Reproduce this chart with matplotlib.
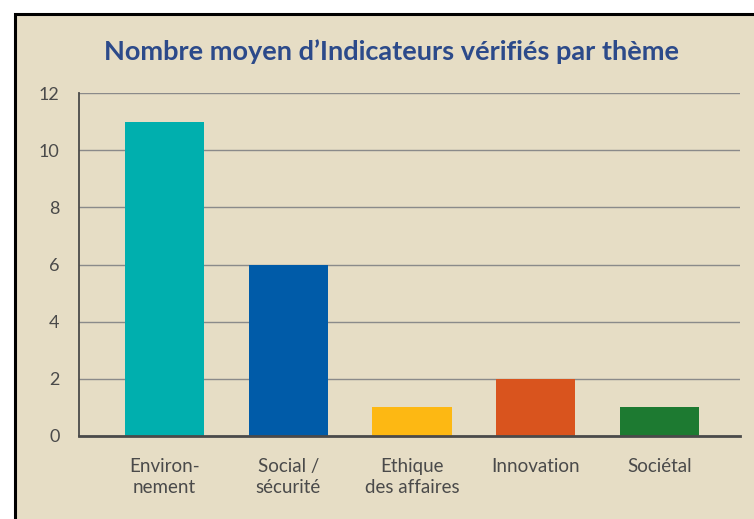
import matplotlib
matplotlib.use("Agg")
import matplotlib.pyplot as plt
from matplotlib.patches import Rectangle

categories = ["Environ-\nnement", "Social /\nsécurité", "Ethique\ndes affaires", "Innovation", "Sociétal"]
values = [11, 6, 1, 2, 1]
colors = ["#00AFAE", "#005BA8", "#FDB813", "#D9541E", "#1D7A31"]
yticks = [0, 2, 4, 6, 8, 10, 12]
title = "Nombre moyen d\u2019Indicateurs vérifiés par thème"

W, H = 754, 519
fig = plt.figure(figsize=(W / 100, H / 100), dpi=100)
fig.patch.set_facecolor("white")

bg = "#E6DDC5"
# beige panel with black frame
fig.patches.append(Rectangle((15 / W, -0.05), 1.1, (H - 14) / H + 0.05, transform=fig.transFigure,
                             facecolor=bg, edgecolor="black", linewidth=2.2, zorder=-5))

ax = fig.add_axes([79 / W, (H - 436) / H, (740 - 79) / W, (436 - 93) / H])
ax.set_zorder(2)
ax.patch.set_alpha(0)

x = list(range(len(categories)))
ax.bar(x, values, width=0.64, color=colors, zorder=3)
ax.set_xlim(-0.69, 4.65)
ax.set_ylim(0, 12)
ax.set_yticks(yticks)
ax.set_xticks(x)
ax.set_xticklabels(categories, fontsize=13.5, color="#4a4a4a", family="Lato", linespacing=1.3)
ax.set_yticklabels([str(v) for v in yticks], fontsize=13, color="#4a4a4a", family="Lato")
ax.tick_params(axis="both", length=0)
ax.tick_params(axis="x", pad=16)
ax.tick_params(axis="y", pad=14)
ax.grid(axis="y", color="#8a8a8a", linewidth=1.0, zorder=1)
for s in ["top", "right"]:
    ax.spines[s].set_visible(False)
ax.spines["left"].set_color("#4a4a4a")
ax.spines["left"].set_linewidth(1.3)
ax.spines["bottom"].set_color("#4a4a4a")
ax.spines["bottom"].set_linewidth(2.0)
ax.spines["bottom"].set_zorder(4)

fig.text(391 / W, (H - 52) / H, title, ha="center", va="center", fontsize=19.5,
         fontweight="bold", color="#2C4A8A", family="Lato", zorder=3)

fig.savefig("out.png", dpi=100, facecolor=fig.get_facecolor())
